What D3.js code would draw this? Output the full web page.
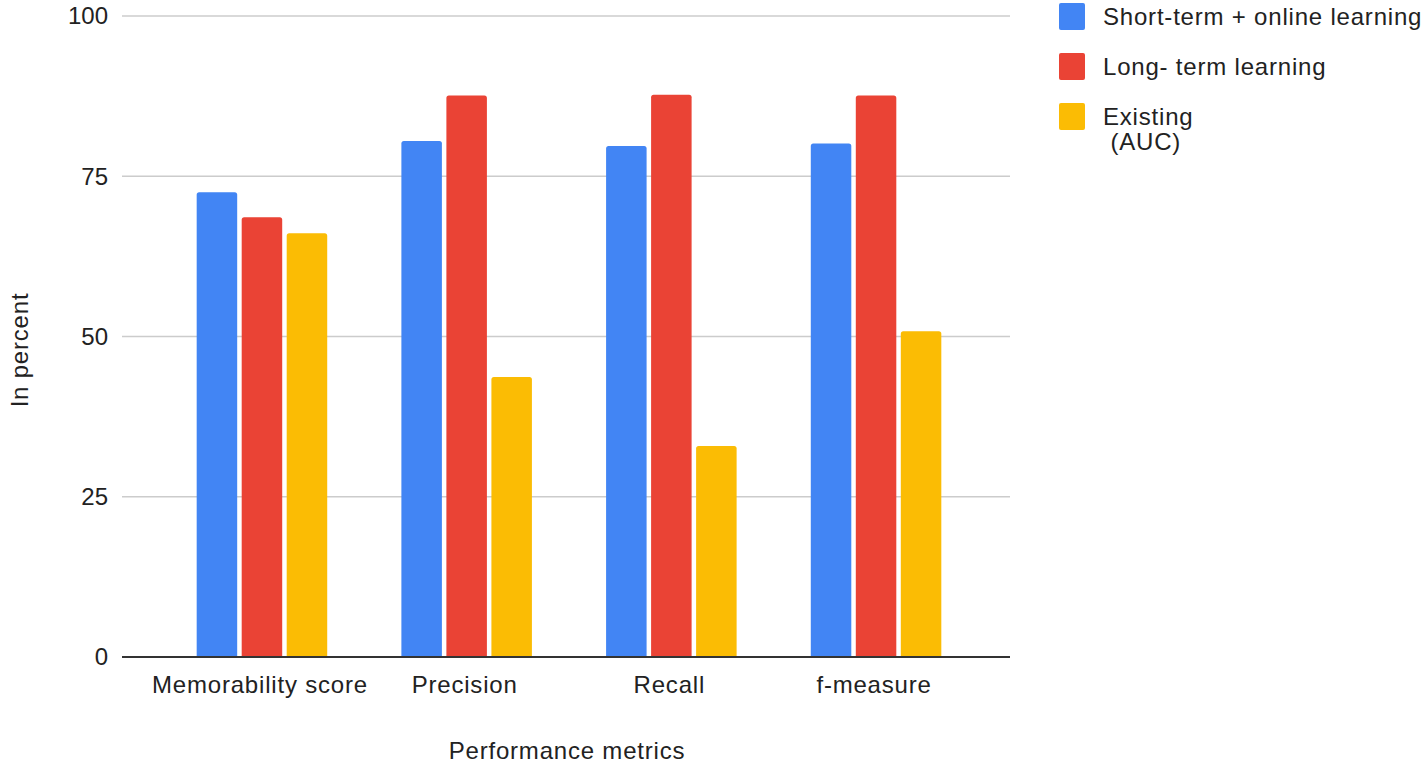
<!DOCTYPE html>
<html>
<head>
<meta charset="utf-8">
<script src="https://cdn.jsdelivr.net/npm/d3@7"></script>
<style>
  body { margin: 0; background: #fff; }
  svg { font-family: "Liberation Sans", Arial, sans-serif; }
  .lbl { letter-spacing: 0.8px; }
</style>
</head>
<body>
<svg id="chart" width="1422" height="765"></svg>
<script>
// data
const categories = ['Memorability score', 'Precision', 'Recall', 'f-measure'];
const seriesNames = ['Short-term + online learning', 'Long- term learning', 'Existing\n (AUC)'];
const shortTerm = [72.5, 80.5, 79.7, 80.1];
const longTerm = [68.6, 87.6, 87.7, 87.6];
const existing = [66.1, 43.7, 32.9, 50.8];
const yTicks = [0, 25, 50, 75, 100];

const colors = ['#4285F4', '#EA4335', '#FBBC04'];
const series = [shortTerm, longTerm, existing];

const svg = d3.select('#chart');
const plotLeft = 122, plotRight = 1010, plotTop = 16, plotBottom = 657;

const y = d3.scaleLinear().domain([0, 100]).range([plotBottom, plotTop]);

const x0 = d3.scaleBand().domain(categories).range([plotLeft + 3, plotRight + 3])
  .paddingInner(0).paddingOuter(0.169);
const x1 = d3.scaleBand().domain(d3.range(series.length)).range([0, x0.bandwidth()])
  .paddingInner(0.1).paddingOuter(0.824);

// gridlines
svg.append('g')
  .selectAll('line')
  .data(yTicks.filter(d => d > 0))
  .join('line')
  .attr('x1', plotLeft).attr('x2', plotRight)
  .attr('y1', d => y(d)).attr('y2', d => y(d))
  .attr('stroke', '#cccccc')
  .attr('stroke-width', 1.5);

// y tick labels
svg.append('g')
  .selectAll('text')
  .data(yTicks)
  .join('text')
  .attr('x', 108)
  .attr('y', d => y(d))
  .attr('dy', '0.35em')
  .attr('text-anchor', 'end')
  .attr('font-size', 24)
  .attr('fill', '#222')
  .text(d => d);

// bars with slightly rounded tops
function barPath(x, yTop, w, h, r) {
  r = Math.min(r, h);
  return `M${x},${yTop + h}V${yTop + r}Q${x},${yTop} ${x + r},${yTop}H${x + w - r}Q${x + w},${yTop} ${x + w},${yTop + r}V${yTop + h}Z`;
}

const groups = svg.append('g')
  .selectAll('g')
  .data(categories)
  .join('g')
  .attr('transform', d => `translate(${x0(d)},0)`);

groups.selectAll('path')
  .data((d, i) => series.map((s, j) => ({ j: j, v: s[i] })))
  .join('path')
  .attr('fill', d => colors[d.j])
  .attr('d', d => barPath(x1(d.j), y(d.v), x1.bandwidth(), plotBottom - y(d.v), 2.5));

// baseline
svg.append('line')
  .attr('x1', plotLeft).attr('x2', plotRight)
  .attr('y1', plotBottom).attr('y2', plotBottom)
  .attr('stroke', '#333')
  .attr('stroke-width', 2);

// x category labels
svg.append('g')
  .selectAll('text')
  .data(categories)
  .join('text')
  .attr('class', 'lbl')
  .attr('x', d => x0(d) + x0.bandwidth() / 2 - 2)
  .attr('y', 693)
  .attr('text-anchor', 'middle')
  .attr('font-size', 24)
  .attr('fill', '#222')
  .text(d => d);

// axis titles
svg.append('text')
  .attr('class', 'lbl')
  .attr('x', (plotLeft + plotRight) / 2 + 1)
  .attr('y', 759)
  .attr('text-anchor', 'middle')
  .attr('font-size', 24)
  .attr('fill', '#222')
  .text('Performance metrics');

svg.append('text')
  .attr('class', 'lbl')
  .attr('transform', 'translate(28,350) rotate(-90)')
  .attr('text-anchor', 'middle')
  .attr('font-size', 24)
  .attr('fill', '#222')
  .text('In percent');

// legend
const legend = svg.append('g')
  .selectAll('g')
  .data(seriesNames)
  .join('g')
  .attr('transform', (d, i) => `translate(1059,${3 + i * 50})`);

legend.append('rect')
  .attr('width', 26).attr('height', 27)
  .attr('rx', 2)
  .attr('fill', (d, i) => colors[i]);

legend.selectAll('text')
  .data(d => d.split('\n'))
  .join('text')
  .attr('class', 'lbl')
  .attr('x', 44)
  .attr('y', (d, i) => 22 + i * 25)
  .attr('font-size', 24)
  .attr('fill', '#222')
  .style('white-space', 'pre')
  .text(d => d);
</script>
</body>
</html>
